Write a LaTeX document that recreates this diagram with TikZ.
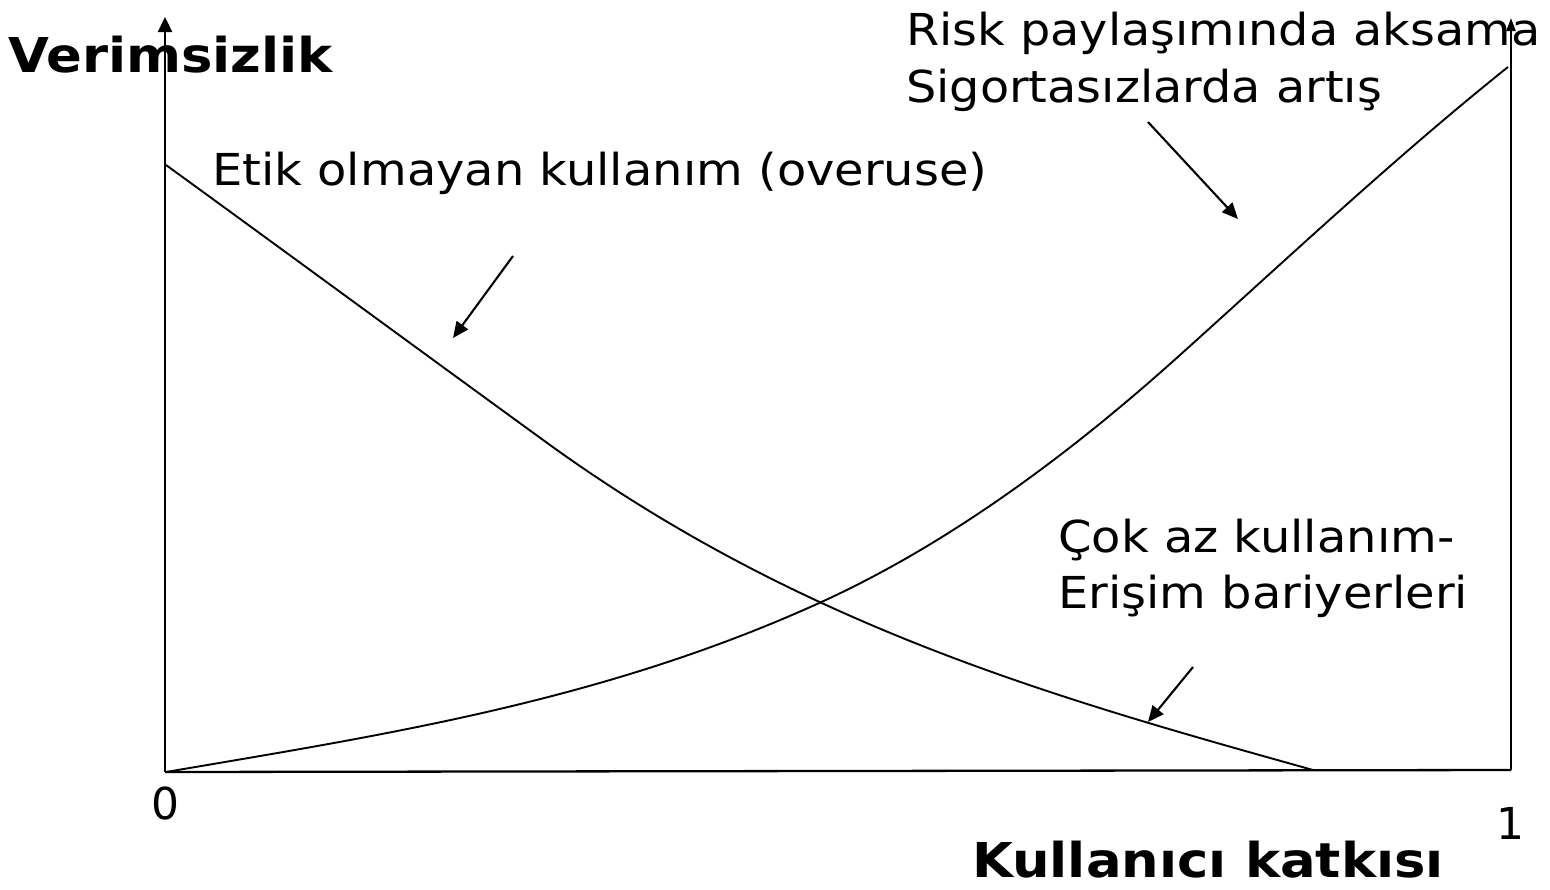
\documentclass[tikz,border=0pt]{standalone}
\usepackage{fontspec}
\setmainfont{DejaVu Sans}
\usetikzlibrary{arrows.meta}
\begin{document}
\begin{tikzpicture}[x=1pt,y=-1pt,
  lbl/.style={inner sep=0pt,anchor=base west,font=\fontsize{44}{50}\selectfont},
  blbl/.style={inner sep=0pt,anchor=base west,font=\fontsize{48}{54}\selectfont\bfseries},
  num/.style={inner sep=0pt,anchor=base,font=\fontsize{44}{50}\selectfont},
  axis/.style={line width=2.3pt},
  curve/.style={line width=1.9pt},
  callout/.style={line width=2.1pt,-{Triangle[length=16pt,width=14pt]}}]
\useasboundingbox (0,0) rectangle (1550,889);
% axes
\coordinate (O) at (165,772);
\coordinate (Ytop) at (165,17);
\coordinate (X1) at (1511,770);
\coordinate (X1top) at (1511,18);
\draw[axis,-{Triangle[length=15pt,width=14pt]}] (O) -- (Ytop);
\draw[axis,-{Triangle[length=13pt,width=9pt]}] (X1) -- (X1top);
\draw[axis] (O) -- (X1);
% curves
\draw[curve,line join=round] (166,165) .. controls (294,258) and (422,352) .. (550,445)
  .. controls (804,628) and (1059,699) .. (1313,770);
\draw[curve,line join=round] (166,772) .. controls (383,735) and (600,702) .. (817,604)
  .. controls (938,549.5) and (1059,464) .. (1180,355)
  .. controls (1289,257) and (1399,154) .. (1508,67);
% labels
\node[blbl] (ylab) at (8,72) {\scalebox{1.1}[1]{Verimsizlik}};
\node[blbl] (xlab) at (972,877) {\scalebox{1.1}[1]{Kullanıcı katkısı}};
\node[lbl] (risk1) at (906,45) {\scalebox{1.085}[1]{Risk paylaşımında aksama}};
\node[lbl] (risk2) at (906,102) {\scalebox{1.085}[1]{Sigortasızlarda artış}};
\node[lbl] (etik) at (212,185) {\scalebox{1.09}[1]{Etik olmayan kullanım (overuse)}};
\node[lbl] (cok1) at (1058,552) {\scalebox{1.09}[1]{Çok az kullanım-}};
\node[lbl] (cok2) at (1058,608) {\scalebox{1.09}[1]{Erişim bariyerleri}};
\node[num] (zero) at (165,819) {0};
\node[num] (one) at (1510,839) {1};
% callout arrows
\coordinate (a1s) at (513,256);
\coordinate (a1e) at (453,338);
\coordinate (a2s) at (1148,122);
\coordinate (a2e) at (1238,219);
\coordinate (a3s) at (1193,667);
\coordinate (a3e) at (1148,722);
\draw[callout] (a1s) -- (a1e);
\draw[callout] (a2s) -- (a2e);
\draw[callout] (a3s) -- (a3e);
\end{tikzpicture}
\end{document}
